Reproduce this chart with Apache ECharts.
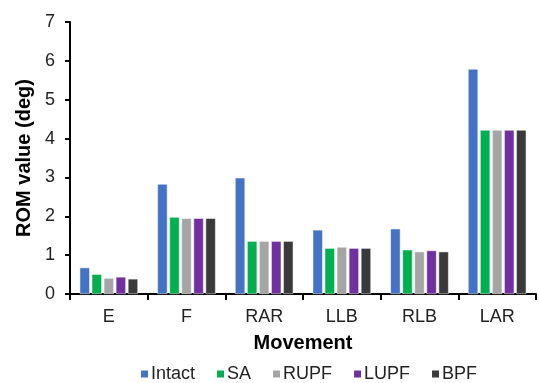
<!DOCTYPE html>
<html><head><meta charset="utf-8">
<script src="https://cdn.jsdelivr.net/npm/echarts@6/dist/echarts.min.js"></script>
<style>html,body{margin:0;padding:0;background:#fff}#c{width:539px;height:383px}</style>
</head><body><div id="c"></div>
<script>
const categories = ['E','F','RAR','LLB','RLB','LAR'];
const intact = [0.68, 2.83, 2.99, 1.65, 1.68, 5.79];
const sa     = [0.51, 1.98, 1.36, 1.18, 1.14, 4.22];
const rupf   = [0.41, 1.95, 1.36, 1.21, 1.09, 4.22];
const lupf   = [0.44, 1.95, 1.36, 1.18, 1.12, 4.22];
const bpf    = [0.39, 1.95, 1.36, 1.18, 1.09, 4.22];
const seriesNames = ['Intact','SA','RUPF','LUPF','BPF'];
const colors = ['#4472C4','#00B050','#A5A5A5','#7030A0','#3A3A3A'];
const seriesData = [intact, sa, rupf, lupf, bpf];

const chart = echarts.init(document.getElementById('c'));
const font = 'Liberation Sans, Arial, sans-serif';
chart.setOption({
  animation: false,
  textStyle: {fontFamily: font},
  grid: {left: 70, right: 3, top: 22, bottom: 89},
  legend: {
    data: seriesNames, top: 360, left: 134, itemWidth: 9, itemHeight: 9, itemGap: 20,
    icon: 'rect', textStyle: {fontSize: 18, color: '#222', fontFamily: font, padding: [0,0,0,-3]}
  },
  xAxis: {
    type: 'category', data: categories,
    name: 'Movement', nameLocation: 'middle', nameGap: 39,
    nameTextStyle: {fontSize: 20, fontWeight: 'bold', color: '#000'},
    axisLine: {lineStyle: {color: '#000', width: 2}},
    axisTick: {show: true, length: 6, lineStyle: {color: '#000', width: 2}},
    axisLabel: {fontSize: 18, color: '#222', margin: 14}
  },
  yAxis: {
    type: 'value', min: 0, max: 7, interval: 1,
    name: 'ROM value (deg)', nameLocation: 'middle', nameGap: 36,
    nameTextStyle: {fontSize: 20, fontWeight: 'bold', color: '#000'},
    splitLine: {show: false},
    axisLine: {show: true, lineStyle: {color: '#000', width: 2}},
    axisTick: {show: true, length: 5, lineStyle: {color: '#000', width: 2}},
    axisLabel: {fontSize: 18, color: '#222', margin: 15}
  },
  series: seriesNames.map((n, i) => ({
    name: n, type: 'bar', data: seriesData[i],
    barGap: '20%', barCategoryGap: '25%',
    itemStyle: {color: colors[i], borderColor: '#fff', borderWidth: 0.5}
  }))
});
</script></body></html>
